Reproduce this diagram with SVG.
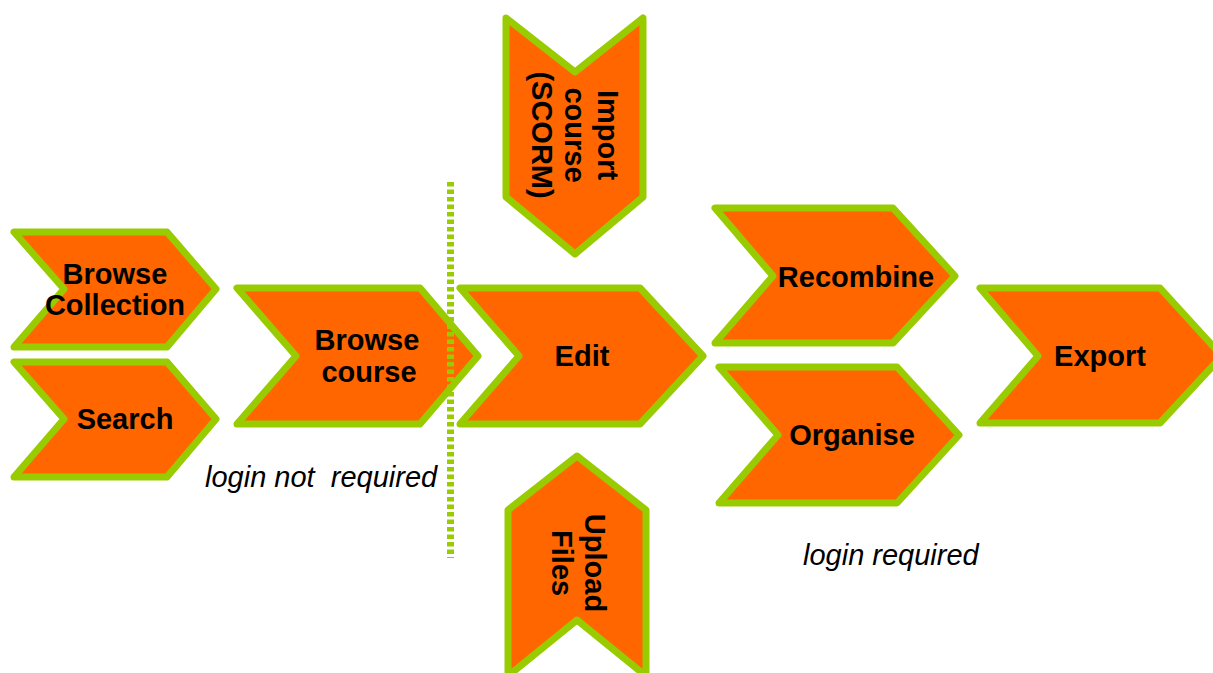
<svg xmlns="http://www.w3.org/2000/svg" width="1213" height="673" viewBox="0 0 1213 673">
<style>
.chev{fill:#FF6600;stroke:#99CC00;stroke-width:7;stroke-linejoin:round}
.lbl{font-family:"Liberation Sans",Arial,sans-serif;font-weight:bold;font-size:29px;fill:#000;text-anchor:middle}
.note{font-family:"Liberation Sans",Arial,sans-serif;font-style:italic;font-size:29px;fill:#000}
.divider{stroke:#99CC00;stroke-width:7;stroke-dasharray:4.5 3;fill:none}
</style>
<rect width="1213" height="673" fill="#fff"/>
<g id="browse-collection">
<polygon class="chev" points="14,232 167,232 216,289 167,347 14,347 64,289"/>
<text class="lbl" x="115" y="284">Browse</text>
<text class="lbl" x="115" y="315">Collection</text>
</g>
<g id="search">
<polygon class="chev" points="14,362 167,362 216,419 167,477 14,477 64,419"/>
<text class="lbl" x="125" y="429">Search</text>
</g>
<g id="browse-course">
<polygon class="chev" points="237,288 420,288 478,356 420,424 237,424 296,356"/>
<text class="lbl" x="367" y="350">Browse</text>
<text class="lbl" x="369" y="382">course</text>
</g>
<g id="connectors">
<line class="divider" x1="450.5" y1="182" x2="450.5" y2="558"/>
</g>
<g id="edit">
<polygon class="chev" points="460,288 640,288 703,356 640,424 460,424 519,356"/>
<text class="lbl" x="582" y="366">Edit</text>
</g>
<g id="import-course">
<polygon class="chev" points="506,18 575,72 643,18 643,197 575,254 506,197"/>
<g transform="translate(598,135) rotate(90)">
<text class="lbl" x="0" y="0">Import</text>
<text class="lbl" x="0" y="33">course</text>
<text class="lbl" x="0" y="66">(SCORM)</text>
</g>
</g>
<g id="upload-files">
<polygon class="chev" points="577,456 646,510 646,676 577,620 508,676 508,510"/>
<g transform="translate(585,563) rotate(90)">
<text class="lbl" x="0" y="0">Upload</text>
<text class="lbl" x="0" y="33">Files</text>
</g>
</g>
<g id="recombine">
<polygon class="chev" points="715,208 893,208 955,276 893,343 715,343 773,276"/>
<text class="lbl" x="856" y="287">Recombine</text>
</g>
<g id="organise">
<polygon class="chev" points="719,367 897,367 959,435 897,503 719,503 778,435"/>
<text class="lbl" x="852" y="445">Organise</text>
</g>
<g id="export">
<polygon class="chev" points="980,288 1160,288 1222,356 1160,423 980,423 1038,356"/>
<text class="lbl" x="1100" y="366">Export</text>
</g>
<text class="note" x="205" y="487" xml:space="preserve">login not  required</text>
<text class="note" x="803" y="565">login required</text>
</svg>
